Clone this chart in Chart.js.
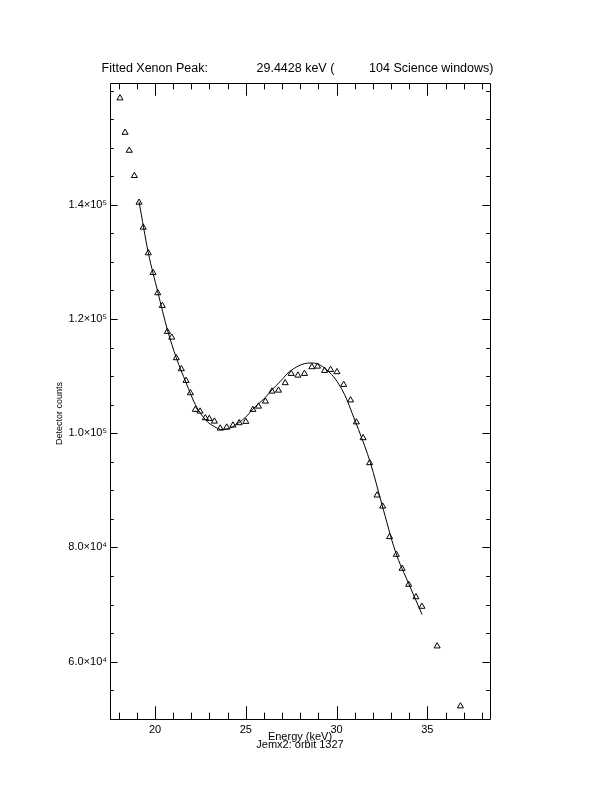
<!DOCTYPE html>
<html lang="en">
<head>
<meta charset="UTF-8">
<title>Fitted Xenon Peak</title>
<script src="https://cdn.jsdelivr.net/npm/chart.js"></script>
<style>
  * { margin: 0; padding: 0; }
  body { background: #fff; }
  #wrap { width: 612px; height: 792px; }
</style>
</head>
<body>
<div id="wrap"><canvas id="myChart" width="612" height="792"></canvas></div>
<script>
// measured spectrum (keV, counts)
const energy = [18.07, 18.35, 18.58, 18.86, 19.12, 19.35, 19.63, 19.89, 20.15, 20.40,
                20.68, 20.92, 21.17, 21.45, 21.71, 21.95, 22.22, 22.48, 22.77, 22.99,
                23.27, 23.59, 23.95, 24.29, 24.63, 25.00, 25.39, 25.70, 26.08, 26.44,
                26.80, 27.17, 27.50, 27.87, 28.23, 28.64, 28.95, 29.34, 29.67, 30.02,
                30.39, 30.77, 31.09, 31.46, 31.82, 32.23, 32.54, 32.92, 33.29, 33.61,
                33.97, 34.37, 34.70, 35.54, 36.82];
const counts = [158670, 152650, 149500, 145075, 140400, 136030, 131550, 128100, 124550, 122330,
                117780, 116780, 113175, 111250, 109200, 107050, 104130, 103830, 102670, 102550,
                102080, 100850, 101030, 101380, 101800, 102030, 104130, 104700, 105580, 107330,
                107500, 108800, 110430, 110130, 110430, 111600, 111700, 110950, 111130, 110730,
                108500, 105790, 101940, 99170, 94800, 89130, 87200, 81850, 78750, 76300,
                73500, 71320, 69650, 62710, 52210];

// fitted curve
const fitEnergy = [19.12, 19.63, 20.15, 20.68, 21.17, 21.71, 22.22, 22.77, 23.27, 23.70,
                   24.14, 24.41, 24.96, 25.52, 26.07, 26.45, 26.89, 27.33, 27.78, 28.22,
                   28.66, 29.10, 29.54, 29.93, 30.30, 30.57, 30.85, 31.21, 31.86, 32.50,
                   33.24, 33.97, 34.71];
const fitCounts = [140525, 131600, 124775, 118125, 113225, 108850, 105000, 102375, 101150, 100625,
                   100890, 101410, 102725, 104650, 106225, 107625, 109025, 110550, 111565, 112175,
                   112300, 111910, 110860, 109500, 107625, 105875, 103550, 100625, 94850, 87500,
                   79275, 73675, 68250];

const xTickValues = [20, 25, 30, 35];
const xTickLabels = ['20', '25', '30', '35'];
const xMinorTicks = [18, 19, 21, 22, 23, 24, 26, 27, 28, 29, 31, 32, 33, 34, 36, 37, 38];
const yTickValues = [60000, 80000, 100000, 120000, 140000];
const yTickLabels = ['6.0×10⁴', '8.0×10⁴', '1.0×10⁵', '1.2×10⁵', '1.4×10⁵'];
const yMinorTicks = [50000, 55000, 65000, 70000, 75000, 85000, 90000, 95000, 105000, 110000,
                     115000, 125000, 130000, 135000, 145000, 150000, 155000, 160000];

const FONT = 'Liberation Sans, Arial, sans-serif';
const Y_MIN = 49960, Y_MAX = 161320;

// IDL style box with inward ticks on all four sides
const idlFrame = {
  id: 'idlFrame',
  afterDraw(chart) {
    const {ctx, chartArea: a, scales: {x, y}} = chart;
    const h = a.bottom - a.top, w = a.right - a.left;
    const xMaj = h * 0.02, xMin = xMaj / 2;
    const yMaj = w * 0.02, yMin = yMaj / 2;
    ctx.save();
    ctx.strokeStyle = '#000';
    ctx.lineWidth = 1;
    ctx.beginPath();
    ctx.rect(a.left + 0.5, a.top + 0.5, w, h);
    const xt = (v, len) => {
      const px = Math.round(x.getPixelForValue(v)) + 0.5;
      ctx.moveTo(px, a.bottom); ctx.lineTo(px, a.bottom - len);
      ctx.moveTo(px, a.top); ctx.lineTo(px, a.top + len);
    };
    const yt = (v, len) => {
      const py = Math.round(y.getPixelForValue(v)) + 0.5;
      ctx.moveTo(a.left, py); ctx.lineTo(a.left + len, py);
      ctx.moveTo(a.right, py); ctx.lineTo(a.right - len, py);
    };
    xTickValues.forEach(v => xt(v, xMaj));
    xMinorTicks.forEach(v => xt(v, xMin));
    yTickValues.forEach(v => yt(v, yMaj));
    yMinorTicks.forEach(v => yt(v, yMin));
    ctx.stroke();
    ctx.restore();
  }
};

const data = {
  datasets: [{
    label: 'data',
    data: energy.map((e, i) => ({x: e, y: counts[i]})),
    showLine: false,
    pointStyle: 'triangle',
    pointRadius: 3.5,
    borderColor: '#000',
    backgroundColor: 'rgba(0,0,0,0)',
    borderWidth: 1
  }, {
    label: 'fit',
    data: fitEnergy.map((e, i) => ({x: e, y: fitCounts[i]})),
    showLine: true,
    pointRadius: 0,
    borderColor: '#000',
    borderWidth: 1,
    cubicInterpolationMode: 'monotone'
  }]
};

const config = {
  type: 'scatter',
  data,
  options: {
    responsive: false,
    animation: false,
    devicePixelRatio: 1,
    layout: { padding: { left: 0, right: 17, top: 0, bottom: 0 } },
    plugins: {
      legend: { display: false },
      tooltip: { enabled: false },
      title: {
        display: true,
        text: 'Fitted Xenon Peak:              29.4428 keV (          104 Science windows)',
        color: '#000',
        font: { family: FONT, size: 12.5, weight: 'normal' },
        padding: { top: 61.5, bottom: 6.5 }
      }
    },
    scales: {
      x: {
        type: 'linear',
        position: 'bottom',
        min: 17.52,
        max: 38.45,
        afterBuildTicks: s => { s.ticks = xTickValues.map(v => ({value: v})); },
        afterFit: s => { s.height = 73; },
        grid: { display: false, drawTicks: false },
        border: { display: false },
        ticks: {
          color: '#000',
          font: { family: FONT, size: 11 },
          padding: 4,
          maxRotation: 0,
          callback: v => xTickLabels[xTickValues.indexOf(v)]
        },
        title: {
          display: true,
          text: ['Energy (keV)', 'Jemx2: orbit 1327'],
          color: '#000',
          font: { family: FONT, size: 11, lineHeight: 0.75 },
          padding: { top: 0, bottom: 43 }
        }
      },
      y: {
        type: 'linear',
        position: 'left',
        min: Y_MIN,
        max: Y_MAX,
        afterBuildTicks: s => { s.ticks = yTickValues.map(v => ({value: v})); },
        afterFit: s => { s.width = 110; },
        grid: { display: false, drawTicks: false },
        border: { display: false },
        ticks: {
          color: '#000',
          font: { family: FONT, size: 11 },
          padding: 3,
          callback: v => yTickLabels[yTickValues.indexOf(v)]
        },
        title: {
          display: true,
          // trailing spaces push the centred label down the axis, as in the original
          text: 'Detector counts          ',
          color: '#000',
          font: { family: FONT, size: 9 },
          padding: { top: 54, bottom: 0 }
        }
      },
      // empty right axis, only reserves the right margin
      y2: {
        type: 'linear',
        position: 'right',
        min: Y_MIN,
        max: Y_MAX,
        afterFit: s => { s.width = 105; },
        grid: { display: false, drawTicks: false },
        border: { display: false },
        ticks: { display: false }
      }
    }
  },
  plugins: [idlFrame]
};

const myChart = new Chart(document.getElementById('myChart'), config);
</script>
</body>
</html>
